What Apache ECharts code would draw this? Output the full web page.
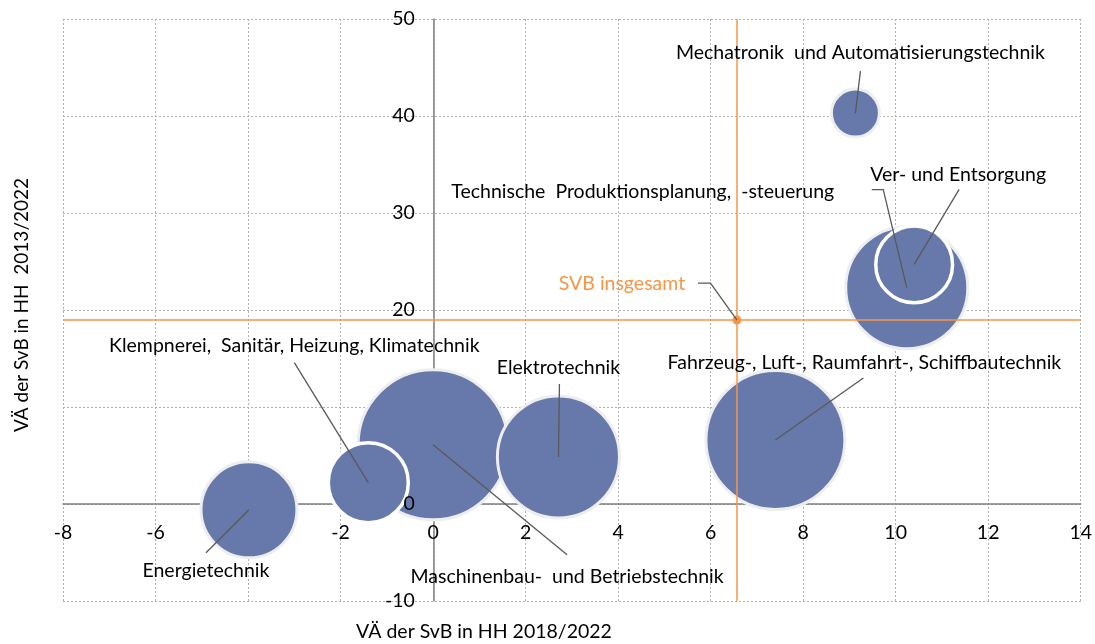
<!DOCTYPE html>
<html>
<head>
<meta charset="utf-8">
<script src="https://cdn.jsdelivr.net/npm/echarts@6/dist/echarts.min.js"></script>
<style>
  html, body { margin: 0; padding: 0; background: #fff; }
  #main { width: 1095px; height: 644px; }
</style>
</head>
<body>
<div id="main"></div>
<script>
// Berufsgruppen (Bubbles)
var names = [
  'Maschinenbau-  und Betriebstechnik',
  'Technische  Produktionsplanung,  -steuerung',
  'Energietechnik',
  'Klempnerei,  Sanitär, Heizung, Klimatechnik',
  'Elektrotechnik',
  'Fahrzeug-, Luft-, Raumfahrt-, Schiffbautechnik',
  'Mechatronik  und Automatisierungstechnik',
  'Ver- und Entsorgung'
];
// VÄ der SvB in HH 2018/2022 (x)
var xValues = [0.0, 10.24, -3.98, -1.40, 2.71, 7.40, 9.13, 10.40];
// VÄ der SvB in HH 2013/2022 (y)
var yValues = [6.1, 22.3, -0.6, 2.2, 4.85, 6.6, 40.3, 24.7];
// Bubble-Größe (relativ)
var sizes = [225, 149, 92, 64, 149, 193, 23, 59];

// SVB insgesamt
var svbName = 'SVB insgesamt';
var svbX = 6.57;
var svbY = 18.96;

var xTicks = { min: -8, max: 14, interval: 2 };
var yTicks = { min: -10, max: 50, interval: 10 };
// y-Beschriftung, die im Original verdeckt ist
var yHiddenLabels = [10];

// Beschriftungen: Text- und Linienversatz relativ zur Bubble-Mitte (px)
var labelOffsets = [
  { text: [134, 132], line: [[134, 110]] },
  { text: [-264, -96], line: [[-35, -98], [-23.5, -98]] },
  { text: [-43, 61], line: [[-43, 43]] },
  { text: [-74, -137], line: [[-74, -120]] },
  { text: [0, -89], line: [[1, -73]] },
  { text: [89, -77], line: [[88, -62]] },
  { text: [5, -60], line: [[5, -42]] },
  { text: [44, -90], line: [[45, -75]] }
];
var svbOffset = { text: [-115, -36], line: [[-39, -37], [-26.5, -37]] };

var FONT = 'Lato';
var FS = 19.5;
var BLUE = '#6779ab';
var ORANGE = '#f79646';

var W = 1095, H = 644;
var grid = { left: 63, right: 12, top: 19, bottom: 43 };
// Achsen kreuzen bei 0: Versatz vom Rand des Diagramms
var gridW = W - grid.left - grid.right;
var gridH = H - grid.top - grid.bottom;
var yAxisShift = (0 - xTicks.min) / (xTicks.max - xTicks.min) * gridW;
var xAxisShift = (0 - yTicks.min) / (yTicks.max - yTicks.min) * gridH;

var bubbleData = names.map(function (n, i) {
  var d = { name: n, value: [xValues[i], yValues[i], sizes[i]] };
  if (i === 3 || i === 7) {
    d.itemStyle = { borderColor: '#ffffff', borderWidth: 3.5 };
  }
  return d;
});

var labelData = names.map(function (n, i) {
  return { name: n, value: [xValues[i], yValues[i]], off: labelOffsets[i], color: '#000' };
});
labelData.push({ name: svbName, value: [svbX, svbY], off: svbOffset, color: ORANGE });

var myChart = echarts.init(document.getElementById('main'));

var gridLine = { show: true, lineStyle: { color: '#b0b0b0', type: [2, 2], width: 1 } };

var option = {
  animation: false,
  grid: grid,
  xAxis: {
    type: 'value',
    min: xTicks.min, max: xTicks.max, interval: xTicks.interval,
    offset: -xAxisShift,
    axisLine: { onZero: false, lineStyle: { color: '#7f7f7f', width: 1.5 } },
    axisTick: { show: false },
    axisLabel: { color: '#000', fontFamily: FONT, fontSize: FS, margin: 19 },
    splitLine: gridLine
  },
  yAxis: [
    {
      // Linie und Gitter (unter den Bubbles)
      type: 'value',
      min: yTicks.min, max: yTicks.max, interval: yTicks.interval,
      offset: -yAxisShift,
      axisLine: { onZero: false, lineStyle: { color: '#7f7f7f', width: 1.5 } },
      axisTick: { show: false },
      axisLabel: { show: false },
      splitLine: gridLine
    },
    {
      // Beschriftung (über den Bubbles)
      type: 'value',
      position: 'left',
      z: 8,
      min: yTicks.min, max: yTicks.max, interval: yTicks.interval,
      offset: -yAxisShift,
      axisLine: { show: false, onZero: false },
      axisTick: { show: false },
      splitLine: { show: false },
      axisLabel: {
        color: '#000', fontFamily: FONT, fontSize: FS, margin: 19,
        formatter: function (v) { return yHiddenLabels.indexOf(v) >= 0 ? '' : String(v); }
      }
    }
  ],
  graphic: [
    {
      type: 'text', x: 484, y: 632,
      style: {
        text: 'VÄ der SvB in HH 2018/2022', fill: '#000', font: FS + 'px ' + FONT,
        align: 'center', verticalAlign: 'middle'
      }
    },
    {
      type: 'text', x: 22, y: 305, rotation: Math.PI / 2,
      style: {
        text: 'VÄ der SvB in HH  2013/2022', fill: '#000', font: '19px ' + FONT,
        align: 'center', verticalAlign: 'middle'
      }
    }
  ],
  series: [
    {
      type: 'scatter',
      z: 3,
      silent: true,
      symbolSize: function (d) { return Math.sqrt(d[2]) * 10; },
      itemStyle: { color: BLUE, opacity: 1, borderColor: '#eeeeee', borderWidth: 3 },
      emphasis: { disabled: true },
      data: bubbleData
    },
    {
      type: 'scatter',
      z: 4,
      silent: true,
      symbolSize: 9,
      itemStyle: { color: ORANGE, opacity: 1 },
      data: [[svbX, svbY]],
      markLine: {
        silent: true,
        symbol: 'none',
        label: { show: false },
        lineStyle: { color: ORANGE, width: 1.5, type: 'solid' },
        data: [{ xAxis: svbX }, { yAxis: svbY }]
      }
    },
    {
      type: 'custom',
      z: 5,
      silent: true,
      clip: false,
      data: labelData,
      renderItem: function (params, api) {
        var item = labelData[params.dataIndex];
        var c = api.coord([api.value(0), api.value(1)]);
        var pts = item.off.line.map(function (p) { return [c[0] + p[0], c[1] + p[1]]; });
        pts.push([c[0], c[1]]);
        return {
          type: 'group',
          children: [
            {
              type: 'polyline',
              shape: { points: pts },
              style: { stroke: '#595959', lineWidth: 1.3, fill: null }
            },
            {
              type: 'text',
              x: c[0] + item.off.text[0],
              y: c[1] + item.off.text[1],
              style: {
                text: item.name, fill: item.color, font: FS + 'px ' + FONT,
                align: 'center', verticalAlign: 'middle'
              }
            }
          ]
        };
      }
    }
  ]
};

myChart.setOption(option);
</script>
</body>
</html>
